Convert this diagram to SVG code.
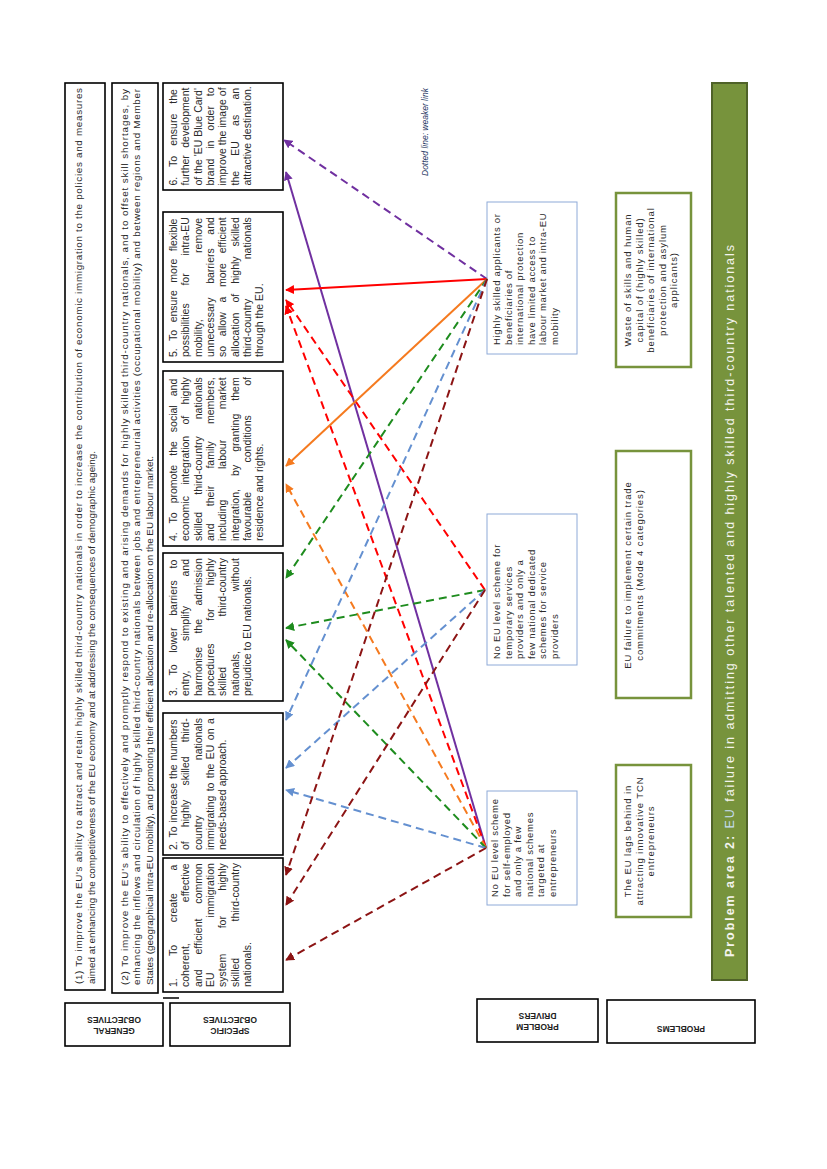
<svg xmlns="http://www.w3.org/2000/svg" width="827" height="1169" viewBox="0 0 827 1169">
<style>
.bx{fill:#fff;stroke:#000;stroke-width:1.6}
.db{fill:#fff;stroke:#8eaad8;stroke-width:1}
.pb{fill:#fff;stroke:#77933c;stroke-width:2.5}
.t{font-family:"Liberation Sans",Arial,sans-serif;font-size:10.5px;fill:#2a2a2a}
.g{font-family:"Liberation Sans",Arial,sans-serif;font-size:9.9px;fill:#2a2a2a}
.d{font-family:"Liberation Sans",Arial,sans-serif;font-size:9.5px;letter-spacing:0.7px;fill:#2a2a2a}
.p{font-family:"Liberation Sans",Arial,sans-serif;font-size:9.5px;letter-spacing:0.9px;fill:#2a2a2a;text-anchor:middle}
.lb{font-family:"Liberation Sans",Arial,sans-serif;font-size:8.5px;font-weight:bold;fill:#222;text-anchor:middle}
.c{fill:none;stroke-width:2}
.ds{stroke-dasharray:8 5}
</style>
<defs>
<marker id="aPu" viewBox="0 0 10 10" refX="9" refY="5" markerWidth="4.5" markerHeight="4.5" orient="auto"><path d="M0,0L10,5L0,10z" fill="#7030a0"/></marker>
<marker id="aRe" viewBox="0 0 10 10" refX="9" refY="5" markerWidth="4.5" markerHeight="4.5" orient="auto"><path d="M0,0L10,5L0,10z" fill="#ff0000"/></marker>
<marker id="aOr" viewBox="0 0 10 10" refX="9" refY="5" markerWidth="4.5" markerHeight="4.5" orient="auto"><path d="M0,0L10,5L0,10z" fill="#f57a1f"/></marker>
<marker id="aGr" viewBox="0 0 10 10" refX="9" refY="5" markerWidth="4.5" markerHeight="4.5" orient="auto"><path d="M0,0L10,5L0,10z" fill="#1e8c1e"/></marker>
<marker id="aBl" viewBox="0 0 10 10" refX="9" refY="5" markerWidth="4.5" markerHeight="4.5" orient="auto"><path d="M0,0L10,5L0,10z" fill="#6490d0"/></marker>
<marker id="aDr" viewBox="0 0 10 10" refX="9" refY="5" markerWidth="4.5" markerHeight="4.5" orient="auto"><path d="M0,0L10,5L0,10z" fill="#8c1414"/></marker>
</defs>
<rect width="827" height="1169" fill="#fff"/>

<!-- General objectives -->
<g id="go1" transform="translate(65,990) rotate(-90)">
<rect class="bx" x="0" y="0" width="907" height="40"/>
<text class="g" x="6" y="16.5" textLength="896" lengthAdjust="spacing">(1) To improve the EU's ability to attract and retain highly skilled third-country nationals in order to increase the contribution of economic immigration to the policies and measures</text>
<text class="g" x="6" y="29.5">aimed at enhancing the competitiveness of the EU economy and at addressing the consequences of demographic ageing.</text>
</g>
<g id="go2" transform="translate(112,993) rotate(-90)">
<rect class="bx" x="0" y="0" width="910" height="46"/>
<text class="g" x="8" y="15.5" textLength="896" lengthAdjust="spacing">(2) To improve the EU's ability to effectively and promptly respond to existing and arising demands for highly skilled third-country nationals, and to offset skill shortages, by</text>
<text class="g" x="8" y="28" textLength="896" lengthAdjust="spacing">enhancing the inflows and circulation of highly skilled third-country nationals between jobs and entrepreneurial activities (occupational mobility) and between regions and Member</text>
<text class="g" x="8" y="40.5">States (geographical intra-EU mobility), and promoting their efficient allocation and re-allocation on the EU labour market.</text>
</g>

<!-- Specific objectives -->
<g id="so6" transform="translate(163,190) rotate(-90)">
<rect class="bx" x="0" y="0" width="107" height="120"/>
<text class="t" x="4.5" y="14" style="word-spacing:7.1px">6. To ensure the</text>
<text class="t" x="4.5" y="26.3" style="word-spacing:4.5px">further development</text>
<text class="t" x="4.5" y="38.6">of the 'EU Blue Card'</text>
<text class="t" x="4.5" y="50.9" style="word-spacing:7px">brand in order to</text>
<text class="t" x="4.5" y="63.2">improve the image of</text>
<text class="t" x="4.5" y="75.5" style="word-spacing:12.3px">the EU as an</text>
<text class="t" x="4.5" y="87.8">attractive destination.</text>
</g>
<g id="so5" transform="translate(163,362) rotate(-90)">
<rect class="bx" x="0" y="0" width="150" height="120"/>
<text class="t" x="5" y="14" style="word-spacing:4.6px">5. To ensure more flexible</text>
<text class="t" x="5" y="26.3" style="word-spacing:14.8px">possibilities for intra-EU</text>
<text class="t" x="5" y="38.6" style="word-spacing:63.4px">mobility, remove</text>
<text class="t" x="5" y="50.9" style="word-spacing:10.7px">unnecessary barriers and</text>
<text class="t" x="5" y="63.2" style="word-spacing:6.8px">so allow a more efficient</text>
<text class="t" x="5" y="75.5" style="word-spacing:7.1px">allocation of highly skilled</text>
<text class="t" x="5" y="87.8" style="word-spacing:36.5px">third-country nationals</text>
<text class="t" x="5" y="100.1">through the EU.</text>
</g>
<g id="so4" transform="translate(163,546) rotate(-90)">
<rect class="bx" x="0" y="0" width="175" height="120"/>
<text class="t" x="5" y="14" style="word-spacing:6.1px">4. To promote the social and</text>
<text class="t" x="5" y="26.3" style="word-spacing:8.3px">economic integration of highly</text>
<text class="t" x="5" y="38.6" style="word-spacing:14.2px">skilled third-country nationals</text>
<text class="t" x="5" y="50.9" style="word-spacing:14.3px">and their family members,</text>
<text class="t" x="5" y="63.2" style="word-spacing:27.6px">including labour market</text>
<text class="t" x="5" y="75.5" style="word-spacing:10.2px">integration, by granting them</text>
<text class="t" x="5" y="87.8" style="word-spacing:26.5px">favourable conditions of</text>
<text class="t" x="5" y="100.1">residence and rights.</text>
</g>
<g id="so3" transform="translate(163,701) rotate(-90)">
<rect class="bx" x="0" y="0" width="148" height="120"/>
<text class="t" x="5" y="14" style="word-spacing:8.9px">3. To lower barriers to</text>
<text class="t" x="5" y="26.3" style="word-spacing:26.6px">entry, simplify and</text>
<text class="t" x="5" y="38.6" style="word-spacing:10.5px">harmonise the admission</text>
<text class="t" x="5" y="50.9" style="word-spacing:19.9px">procedures for highly</text>
<text class="t" x="5" y="63.2" style="word-spacing:47.5px">skilled third-country</text>
<text class="t" x="5" y="75.5" style="word-spacing:56.8px">nationals, without</text>
<text class="t" x="5" y="87.8">prejudice to EU nationals.</text>
</g>
<g id="so2" transform="translate(163,855) rotate(-90)">
<rect class="bx" x="0" y="0" width="142" height="120"/>
<text class="t" x="5" y="14" style="word-spacing:1px">2. To increase the numbers</text>
<text class="t" x="5" y="26.3" style="word-spacing:11.2px">of highly skilled third-</text>
<text class="t" x="5" y="38.6" style="word-spacing:52.5px">country nationals</text>
<text class="t" x="5" y="50.9" style="word-spacing:1.5px">immigrating to the EU on a</text>
<text class="t" x="5" y="63.2">needs-based approach.</text>
</g>
<g id="so1" transform="translate(163,992) rotate(-90)">
<rect class="bx" x="0" y="0" width="134" height="120"/>
<text class="t" x="5" y="14" style="word-spacing:19.6px">1. To create a</text>
<text class="t" x="5" y="26.3" style="word-spacing:38.1px">coherent, effective</text>
<text class="t" x="5" y="38.6" style="word-spacing:12px">and efficient common</text>
<text class="t" x="5" y="50.9" style="word-spacing:52.1px">EU immigration</text>
<text class="t" x="5" y="63.2" style="word-spacing:22.5px">system for highly</text>
<text class="t" x="5" y="75.5" style="word-spacing:33.5px">skilled third-country</text>
<text class="t" x="5" y="87.8">nationals.</text>
</g>
<line x1="163" y1="998" x2="179" y2="998" stroke="#000" stroke-width="1.5"/>

<!-- Problem drivers -->
<g id="pd1" transform="translate(487,354) rotate(-90)">
<rect class="db" x="0" y="0" width="152" height="90"/>
<text class="d" x="9" y="13">Highly skilled applicants or</text>
<text class="d" x="9" y="24.5">beneficiaries of</text>
<text class="d" x="9" y="36">international protection</text>
<text class="d" x="9" y="47.5">have limited access to</text>
<text class="d" x="9" y="59">labour market and intra-EU</text>
<text class="d" x="9" y="70.5">mobility</text>
</g>
<g id="pd2" transform="translate(487,665) rotate(-90)">
<rect class="db" x="0" y="0" width="151" height="90"/>
<text class="d" x="6" y="13">No EU level scheme for</text>
<text class="d" x="6" y="24.5">temporary services</text>
<text class="d" x="6" y="36">providers and only a</text>
<text class="d" x="6" y="47.5">few national dedicated</text>
<text class="d" x="6" y="59">schemes for service</text>
<text class="d" x="6" y="70.5">providers</text>
</g>
<g id="pd3" transform="translate(487,905) rotate(-90)">
<rect class="db" x="0" y="0" width="114" height="90"/>
<text class="d" x="8" y="11">No EU level scheme</text>
<text class="d" x="8" y="22.5">for self-employed</text>
<text class="d" x="8" y="34">and only a few</text>
<text class="d" x="8" y="45.5">national schemes</text>
<text class="d" x="8" y="57">targeted at</text>
<text class="d" x="8" y="68.5">entrepreneurs</text>
</g>

<!-- Problems -->
<g id="pr1" transform="translate(616,367) rotate(-90)">
<rect class="pb" x="0" y="0" width="174" height="75"/>
<text class="p" x="87" y="15">Waste of skills and human</text>
<text class="p" x="87" y="26.5">capital of (highly skilled)</text>
<text class="p" x="87" y="38">beneficiaries of international</text>
<text class="p" x="87" y="49.5">protection and asylum</text>
<text class="p" x="87" y="61">applicants)</text>
</g>
<g id="pr2" transform="translate(616,698) rotate(-90)">
<rect class="pb" x="0" y="0" width="247" height="75"/>
<text class="p" x="123" y="15">EU failure to implement certain trade</text>
<text class="p" x="123" y="26.5">commitments (Mode 4 categories)</text>
</g>
<g id="pr3" transform="translate(616,917) rotate(-90)">
<rect class="pb" x="0" y="0" width="152" height="75"/>
<text class="p" x="76" y="15">The EU lags behind in</text>
<text class="p" x="76" y="26.5">attracting innovative TCN</text>
<text class="p" x="76" y="38">entrepreneurs</text>
</g>

<!-- Problem area bar -->
<g id="area" transform="translate(712,980) rotate(-90)">
<rect x="0" y="0" width="897" height="35" fill="#77933c" stroke="#4f6228" stroke-width="2"/>
<text x="23" y="21.5" textLength="712" lengthAdjust="spacing" style="font-family:'Liberation Sans',Arial,sans-serif;font-size:12.5px;fill:#f4f4ee"><tspan font-weight="bold">Problem area 2:</tspan> <tspan fill="#c6dcf2">EU</tspan> failure in admitting other talented and highly skilled third-country nationals</text>
</g>

<text transform="translate(428,176) rotate(-90)" style="font-family:'Liberation Sans',Arial,sans-serif;font-size:8.5px;font-style:italic;fill:#1f3864">Dotted line: weaker link</text>

<!-- Row labels -->
<g id="lbl-go">
<rect class="bx" x="65" y="1003" width="98" height="43"/>
<text class="lb" transform="rotate(180 114 1024.5)" x="114" y="1021">GENERAL</text>
<text class="lb" transform="rotate(180 114 1024.5)" x="114" y="1032">OBJECTIVES</text>
</g>
<g id="lbl-so">
<rect class="bx" x="170" y="1003" width="120" height="43"/>
<text class="lb" transform="rotate(180 230 1024.5)" x="230" y="1021">SPECIFIC</text>
<text class="lb" transform="rotate(180 230 1024.5)" x="230" y="1032">OBJECTIVES</text>
</g>
<g id="lbl-pd">
<rect class="bx" x="477" y="999" width="121" height="43"/>
<text class="lb" transform="rotate(180 537.5 1020.5)" x="537.5" y="1017">PROBLEM</text>
<text class="lb" transform="rotate(180 537.5 1020.5)" x="537.5" y="1028">DRIVERS</text>
</g>
<g id="lbl-pr">
<rect class="bx" x="607" y="1000" width="148" height="43"/>
<text class="lb" transform="rotate(180 681 1021.5)" x="681" y="1017">PROBLEMS</text>
</g>

<!-- Connectors -->
<g id="connectors">
<line class="c ds" x1="487" y1="279" x2="284" y2="140" stroke="#7030a0" marker-end="url(#aPu)"/>
<line class="c" x1="486" y1="848" x2="286" y2="172" stroke="#7030a0" marker-end="url(#aPu)"/>
<line class="c" x1="487" y1="279" x2="286" y2="290" stroke="#ff0000" marker-end="url(#aRe)"/>
<line class="c ds" x1="485" y1="590" x2="286" y2="300" stroke="#ff0000" marker-end="url(#aRe)"/>
<line class="c ds" x1="486" y1="848" x2="286" y2="306" stroke="#ff0000" marker-end="url(#aRe)"/>
<line class="c" x1="487" y1="279" x2="286" y2="466" stroke="#f57a1f" marker-end="url(#aOr)"/>
<line class="c ds" x1="486" y1="848" x2="286" y2="484" stroke="#f57a1f" marker-end="url(#aOr)"/>
<line class="c ds" x1="487" y1="279" x2="286" y2="578" stroke="#1e8c1e" marker-end="url(#aGr)"/>
<line class="c ds" x1="485" y1="590" x2="286" y2="628" stroke="#1e8c1e" marker-end="url(#aGr)"/>
<line class="c ds" x1="486" y1="848" x2="286" y2="640" stroke="#1e8c1e" marker-end="url(#aGr)"/>
<line class="c ds" x1="487" y1="279" x2="286" y2="720" stroke="#6490d0" marker-end="url(#aBl)"/>
<line class="c ds" x1="485" y1="590" x2="286" y2="768" stroke="#6490d0" marker-end="url(#aBl)"/>
<line class="c ds" x1="486" y1="848" x2="286" y2="790" stroke="#6490d0" marker-end="url(#aBl)"/>
<line class="c ds" x1="487" y1="279" x2="286" y2="875" stroke="#8c1414" marker-end="url(#aDr)"/>
<line class="c ds" x1="485" y1="590" x2="286" y2="905" stroke="#8c1414" marker-end="url(#aDr)"/>
<line class="c ds" x1="486" y1="848" x2="286" y2="960" stroke="#8c1414" marker-end="url(#aDr)"/>
</g>
</svg>
